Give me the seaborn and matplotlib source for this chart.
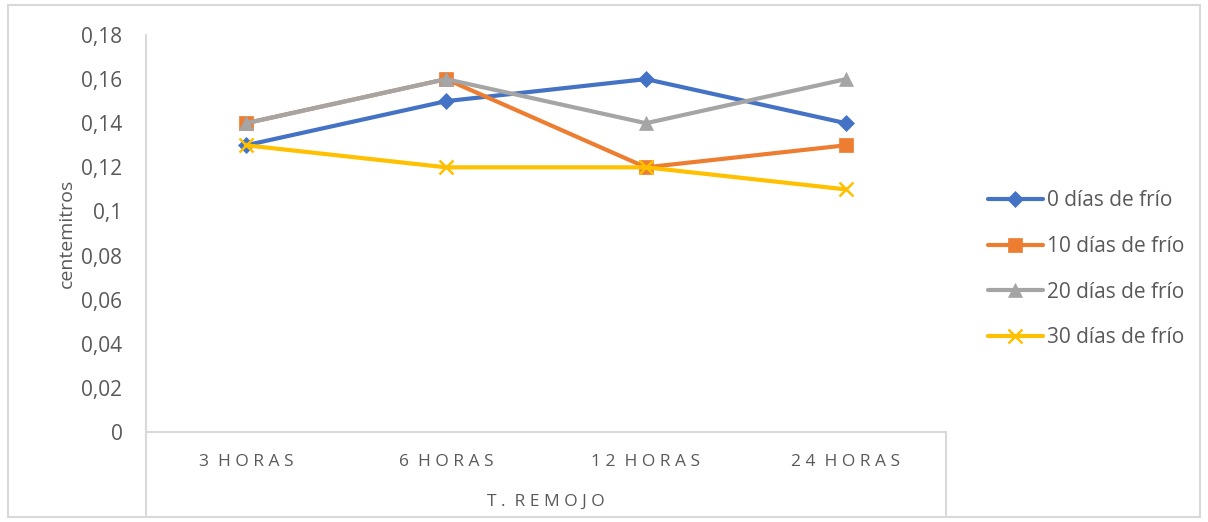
import pandas as pd
import seaborn as sns
import matplotlib.pyplot as plt
from matplotlib.patches import Rectangle
from matplotlib.ticker import FuncFormatter

# data
horas = ['3 HORAS', '6 HORAS', '12 HORAS', '24 HORAS']
series = ['0 días de frío', '10 días de frío', '20 días de frío', '30 días de frío']
dias_0 = [0.13, 0.15, 0.16, 0.14]
dias_10 = [0.14, 0.16, 0.12, 0.13]
dias_20 = [0.14, 0.16, 0.14, 0.16]
dias_30 = [0.13, 0.12, 0.12, 0.11]
y_ticks = [0, 0.02, 0.04, 0.06, 0.08, 0.1, 0.12, 0.14, 0.16, 0.18]

colors = ['#4472C4', '#ED7D31', '#A5A5A5', '#FFC000']
markers = ['D', 's', '^', 'x']
msizes = [8.5, 10, 10.5, 10]
txt = '#595959'


def spread(s):
    # imitate the letter spacing of the category labels
    return '  '.join(' '.join(w) for w in s.split(' '))


rows = []
for name, vals in zip(series, [dias_0, dias_10, dias_20, dias_30]):
    for i, v in enumerate(vals):
        rows.append({'pos': i, 'valor': v, 'serie': name})
df = pd.DataFrame(rows)

sns.set_style('white')
plt.rcParams['font.family'] = ['Open Sans', 'DejaVu Sans']

fig = plt.figure(figsize=(12.08, 5.22), dpi=100)
ax = fig.add_axes([146 / 1208, 1 - 432 / 522, 800 / 1208, 397 / 522])

for name, c, m, ms in zip(series, colors, markers, msizes):
    sub = df[df['serie'] == name]
    sns.lineplot(data=sub, x='pos', y='valor', ax=ax, color=c, marker=m,
                 markersize=ms, markeredgecolor=c, markeredgewidth=1.8 if m == 'x' else 0.5,
                 linewidth=3.0, label=name)

ax.set_xlim(-0.5, 3.5)
ax.set_ylim(0, 0.18)
ax.set_yticks(y_ticks)
ax.yaxis.set_major_formatter(FuncFormatter(lambda v, p: f'{v:g}'.replace('.', ',')))
ax.set_xticks(range(len(horas)))
ax.set_xticklabels([spread(h) for h in horas], fontsize=12.5, color=txt)
ax.tick_params(axis='y', labelsize=15, colors=txt, length=0, pad=17)
ax.tick_params(axis='x', length=0, pad=16)

for s in ['top', 'right']:
    ax.spines[s].set_visible(False)
ax.spines['left'].set_visible(False)
ax.spines['bottom'].set_color('#D9D9D9')
ax.spines['bottom'].set_linewidth(1.5)

# category axis separators reaching below the plot
ax.plot([0, 0], [-0.21, 1], transform=ax.transAxes, color='#D9D9D9', lw=1.5, clip_on=False)
ax.plot([1, 1], [-0.21, 0], transform=ax.transAxes, color='#D9D9D9', lw=1.5, clip_on=False)

ax.set_xlabel(spread('T. REMOJO'), fontsize=12.5, color=txt, labelpad=17)
ax.set_ylabel('centemitros', fontsize=14, color=txt, labelpad=4)

leg = ax.legend(loc='center left', bbox_to_anchor=(1.053, 0.41), frameon=False,
                fontsize=15, handlelength=2.6, labelspacing=1.19, handletextpad=0.2,
                borderaxespad=0, borderpad=0)
for t in leg.get_texts():
    t.set_color(txt)

fig.patches.append(Rectangle((8 / 1208, 5 / 522), 1192 / 1208, 512 / 522,
                             transform=fig.transFigure, fill=False,
                             edgecolor='#D9D9D9', lw=1.5))

fig.savefig('out.png', dpi=100)
